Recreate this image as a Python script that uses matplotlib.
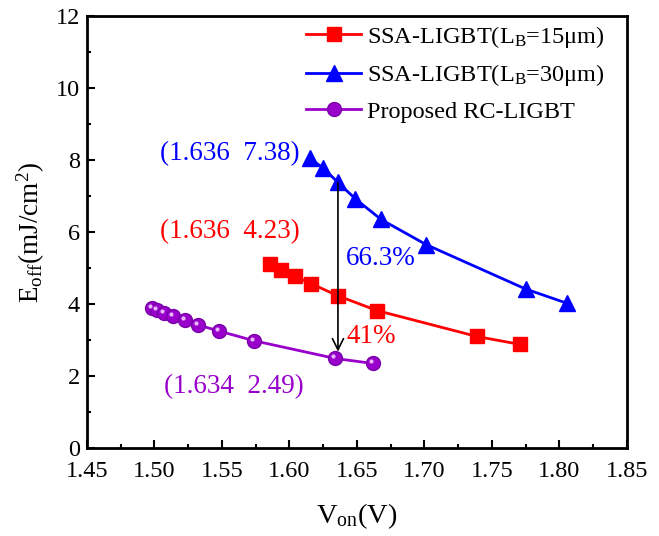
import matplotlib
matplotlib.use("Agg")
import matplotlib.pyplot as plt
import matplotlib.transforms as mtransforms

plt.rcParams['font.family'] = ['Liberation Serif', 'DejaVu Serif']
plt.rcParams['mathtext.fontset'] = 'custom'
plt.rcParams['mathtext.rm'] = 'Liberation Serif'
plt.rcParams['mathtext.it'] = 'Liberation Serif:italic'

# data
von_15 = [1.586, 1.5935, 1.604, 1.616, 1.636, 1.665, 1.739, 1.771]
eoff_15 = [5.12, 4.95, 4.78, 4.57, 4.23, 3.82, 3.10, 2.88]

von_30 = [1.615, 1.625, 1.636, 1.649, 1.668, 1.7015, 1.775, 1.806]
eoff_30 = [8.05, 7.78, 7.38, 6.92, 6.35, 5.65, 4.42, 4.02]

von_rc = [1.498, 1.502, 1.507, 1.514, 1.5228, 1.5324, 1.548, 1.574, 1.634, 1.662]
eoff_rc = [3.88, 3.83, 3.76, 3.67, 3.55, 3.42, 3.25, 2.98, 2.49, 2.35]

labels = [r'SSA-LIGBT(L$_\mathrm{B}$=15μm)',
          r'SSA-LIGBT(L$_\mathrm{B}$=30μm)',
          'Proposed RC-LIGBT']

RED = '#FF0000'
BLUE = '#0000FF'
PURPLE = '#9900CC'

fig = plt.figure(figsize=(6.59, 5.36), dpi=100)
ax = fig.add_axes([0.132, 0.164, 0.819, 0.806])

ax.plot(von_15, eoff_15, '-s', color=RED, lw=2, ms=10, label=labels[0])
ax.plot(von_30, eoff_30, '-^', color=BLUE, lw=2, ms=11.5, label=labels[1])
ax.plot(von_rc, eoff_rc, '-o', color=PURPLE, lw=2, ms=10,
        mec='#7A00A8', label=labels[2])
# small highlight on the spheres
hl = mtransforms.offset_copy(ax.transData, fig=fig, x=-1.5, y=1.5, units='points')
ax.plot(von_rc, eoff_rc, 'o', color='#E8B8F5', ms=3, mec='none', transform=hl)

# arrow from SSA (30um) to proposed
ax.annotate('', xy=(1.636, 2.68), xytext=(1.636, 7.38),
            arrowprops=dict(arrowstyle='->', color='black', lw=1.2,
                            mutation_scale=20, shrinkA=0, shrinkB=0))

fs = 19.5
ax.text(1.556, 8.17, '(1.636  7.38)', color=BLUE, fontsize=fs, ha='center', va='center')
ax.text(1.556, 6.01, '(1.636  4.23)', color=RED, fontsize=fs, ha='center', va='center')
ax.text(1.559, 1.70, '(1.634  2.49)', color=PURPLE, fontsize=fs, ha='center', va='center')
ax.text(1.6415, 5.28, '66.3%', color=BLUE, fontsize=fs, ha='left', va='center')
ax.text(1.6425, 3.09, '41%', color=RED, fontsize=fs, ha='left', va='center')

ax.set_xlim(1.45, 1.85)
ax.set_ylim(0, 12)
ax.set_xticks([1.45, 1.50, 1.55, 1.60, 1.65, 1.70, 1.75, 1.80, 1.85])
ax.set_xticklabels(['1.45', '1.50', '1.55', '1.60', '1.65', '1.70', '1.75', '1.80', '1.85'])
ax.set_yticks([0, 2, 4, 6, 8, 10, 12])
ax.set_xticks([1.475, 1.525, 1.575, 1.625, 1.675, 1.725, 1.775, 1.825], minor=True)
ax.set_yticks([1, 3, 5, 7, 9, 11], minor=True)
ax.tick_params(which='both', direction='in', width=1.5, labelsize=17.5)
ax.tick_params(which='major', length=6)
ax.tick_params(which='minor', length=3)
ax.tick_params(axis='x', pad=9)
ax.tick_params(axis='y', pad=5)
for s in ax.spines.values():
    s.set_linewidth(2)

ax.set_xlabel(r'V$_\mathrm{on}$(V)', fontsize=20.5, labelpad=14)
ax.set_ylabel(r'E$_\mathrm{off}$(mJ/cm$^\mathrm{2}$)', fontsize=19.5, labelpad=6)

ax.legend(loc='upper right', bbox_to_anchor=(0.9685, 0.993), frameon=False,
          fontsize=17.5, handlelength=2.25, handletextpad=0.25,
          labelspacing=0.51, borderaxespad=0, borderpad=0.2)

fig.savefig('out.png', dpi=100)
